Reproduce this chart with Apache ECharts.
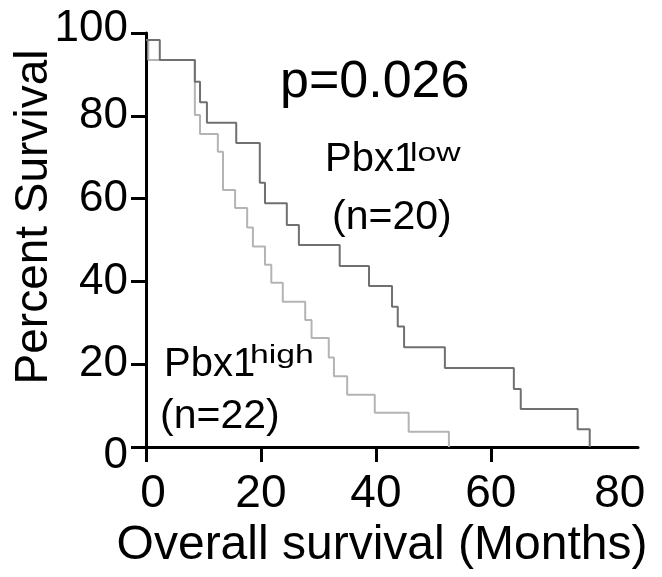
<!DOCTYPE html>
<html>
<head>
<meta charset="utf-8">
<script src="https://cdn.jsdelivr.net/npm/echarts@6/dist/echarts.min.js"></script>
<style>
html,body{margin:0;padding:0;background:#fff;}
#chart{width:662px;height:577px;}
</style>
</head>
<body>
<div id="chart"></div>
<script>
// Kaplan-Meier curves (months, percent survival after each step)
const monthsLow = [0, 2.4, 8.5, 9.4, 10.6, 15.7, 19.8, 20.7, 24.5, 26.6, 33.7, 38.8, 42.8, 43.8, 44.9, 52.0, 64.0, 65.2, 75.1, 77.2];
const survLow   = [98.3, 93.5, 88.2, 83.3, 78.3, 73.4, 63.8, 58.9, 53.6, 48.8, 43.7, 38.9, 33.9, 29.1, 24.1, 19.1, 14.0, 9.2, 4.3, 0];
const monthsHigh = [0, 0.4, 8.5, 9.4, 12.5, 13.4, 15.5, 17.6, 18.6, 20.7, 21.8, 23.8, 27.7, 28.8, 31.8, 32.7, 35.0, 39.8, 45.7, 52.7];
const survHigh   = [98.3, 93.5, 80.2, 75.6, 71.3, 62.1, 57.7, 53.0, 48.4, 44.0, 39.7, 35.1, 30.7, 26.3, 21.6, 17.1, 12.6, 8.3, 3.7, 0];
const xTickValues = [0, 20, 40, 60];
const xLabelValues = [0, 20, 40, 60, 80];
const yTickValues = [0, 20, 40, 60, 80, 100];
const pValueText = 'p=0.026';
const lowLabel = ['Pbx1', 'low', '(n=20)'];
const highLabel = ['Pbx1', 'high', '(n=22)'];
const xTitle = 'Overall survival (Months)';
const yTitle = 'Percent Survival';

const FONT = '"Liberation Sans", Arial, sans-serif';
const chart = echarts.init(document.getElementById('chart'), null, {renderer: 'canvas'});

function pairs(xs, ys) { return xs.map((x, i) => [x, ys[i]]); }

const option = {
  animation: false,
  backgroundColor: '#fff',
  grid: {left: 146, right: 24, top: 33, bottom: 130, containLabel: false, outerBoundsMode: 'none'},
  xAxis: {
    type: 'value', min: 0, max: 85.6, interval: 20,
    name: xTitle, nameLocation: 'middle', nameGap: 75, nameMoveOverlap: false,
    nameTextStyle: {fontSize: 48, color: '#000', fontFamily: FONT, padding: [0, 20, 0, 0]},
    axisLine: {show: true, onZero: false, lineStyle: {color: '#000', width: 3}},
    axisTick: {show: true, length: 15, lineStyle: {color: '#000', width: 3}, customValues: xTickValues},
    axisLabel: {
      customValues: xLabelValues, fontSize: 46, color: '#000', fontFamily: FONT, margin: 24,
      formatter: function (v) {
        if (v === 0) return '{a|0}';
        if (v === 80) return '{b|80}';
        return String(v);
      },
      rich: {
        a: {fontSize: 46, fontFamily: FONT, color: '#000', padding: [0, 0, 0, 14]},
        b: {fontSize: 46, fontFamily: FONT, color: '#000', padding: [0, 0, 0, 28]}
      }
    },
    splitLine: {show: false}
  },
  yAxis: {
    type: 'value', min: 0, max: 100, interval: 20,
    name: yTitle, nameLocation: 'middle', nameGap: 89, nameMoveOverlap: false,
    nameTextStyle: {fontSize: 46, color: '#000', fontFamily: FONT, padding: [0, 0, 0, 46]},
    axisLine: {show: true, onZero: false, lineStyle: {color: '#000', width: 3}},
    axisTick: {show: true, length: 15, lineStyle: {color: '#000', width: 3}, customValues: yTickValues},
    axisLabel: {
      customValues: yTickValues, fontSize: 44, color: '#000', fontFamily: FONT, margin: 18,
      formatter: function (v) {
        if (v === 0) return '{z|0}';
        if (v === 100) return '{t|100}';
        return String(v);
      },
      rich: {
        z: {fontSize: 44, fontFamily: FONT, color: '#000', padding: [18, 0, 0, 0]},
        t: {fontSize: 44, fontFamily: FONT, color: '#000', padding: [0, 0, 8, 0]}
      }
    },
    splitLine: {show: false}
  },
  series: [
    {
      name: 'Pbx1 low', type: 'line', step: 'end', symbol: 'none', showSymbol: false,
      data: pairs(monthsLow, survLow),
      lineStyle: {color: '#707070', width: 2}, z: 3
    },
    {
      name: 'Pbx1 high', type: 'line', step: 'end', symbol: 'none', showSymbol: false,
      data: pairs(monthsHigh, survHigh),
      lineStyle: {color: '#b4b4b4', width: 2}, z: 2
    }
  ],
  graphic: [
    {type: 'text', x: 280, y: 83, style: {text: pValueText, font: '52px ' + FONT, fill: '#000', verticalAlign: 'middle', align: 'left'}},
    {type: 'text', x: 325, y: 160, style: {text: lowLabel[0], font: '40px ' + FONT, fill: '#000', verticalAlign: 'middle', align: 'left'}},
    {type: 'text', x: 410, y: 154, scaleX: 1.35, style: {text: lowLabel[1], font: '25px ' + FONT, fill: '#000', verticalAlign: 'middle', align: 'left'}},
    {type: 'text', x: 332, y: 218, style: {text: lowLabel[2], font: '41px ' + FONT, fill: '#000', verticalAlign: 'middle', align: 'left'}},
    {type: 'text', x: 164, y: 365, style: {text: highLabel[0], font: '40px ' + FONT, fill: '#000', verticalAlign: 'middle', align: 'left'}},
    {type: 'text', x: 250, y: 356, scaleX: 1.35, style: {text: highLabel[1], font: '25px ' + FONT, fill: '#000', verticalAlign: 'middle', align: 'left'}},
    {type: 'text', x: 160, y: 417, style: {text: highLabel[2], font: '41px ' + FONT, fill: '#000', verticalAlign: 'middle', align: 'left'}}
  ]
};
chart.setOption(option);
</script>
</body>
</html>
